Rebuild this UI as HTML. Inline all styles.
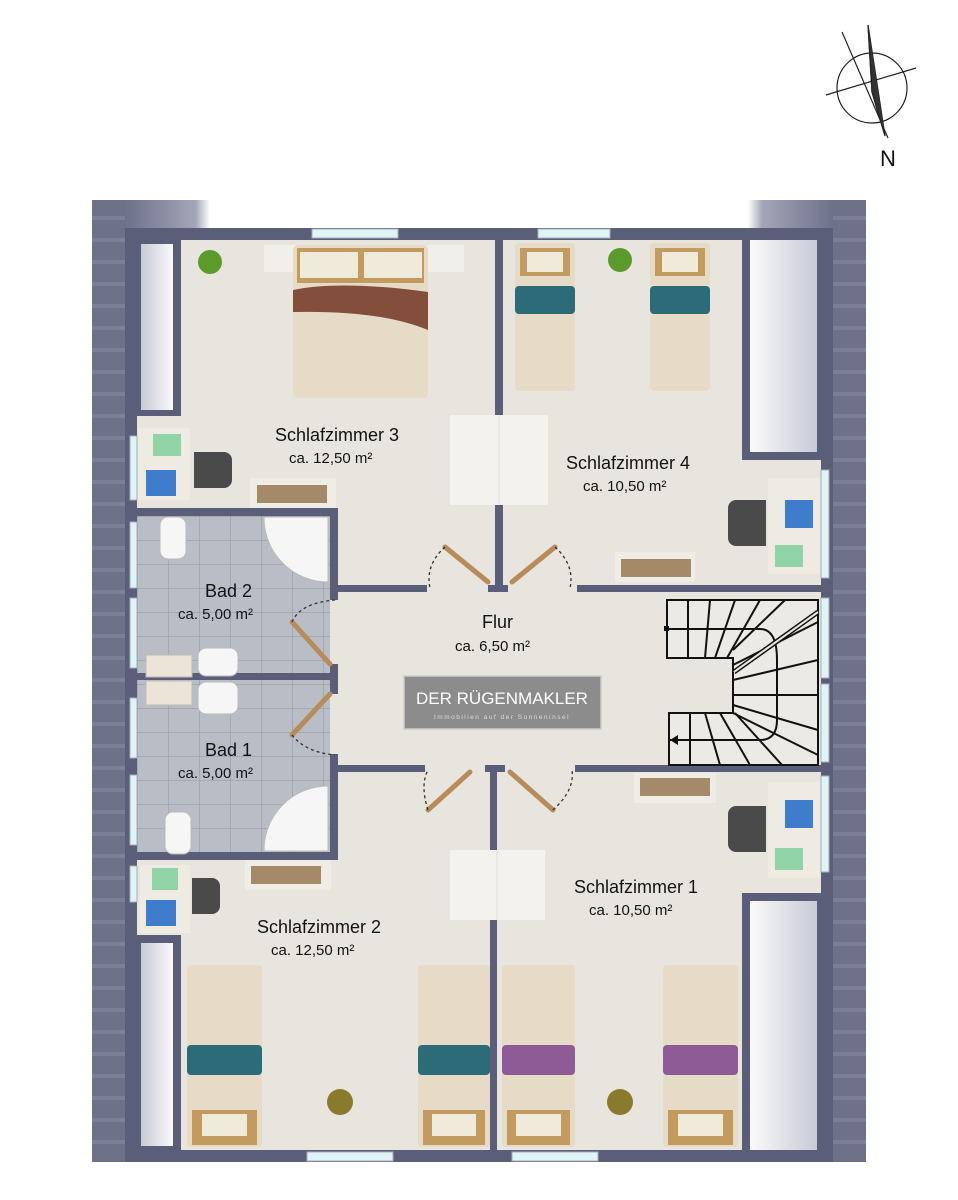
<!DOCTYPE html>
<html><head><meta charset="utf-8"><style>
html,body{margin:0;padding:0;background:#fff;}
svg{display:block;}
text{font-family:"Liberation Sans",sans-serif;fill:#111;}
</style></head><body>
<svg width="958" height="1200" viewBox="0 0 958 1200" xmlns="http://www.w3.org/2000/svg">
<defs>
<linearGradient id="roofT" x1="0" y1="0" x2="1" y2="0">
<stop offset="0" stop-color="#6d7189"/><stop offset="0.1" stop-color="#a4a6b8"/><stop offset="0.12" stop-color="#fff"/><stop offset="0.88" stop-color="#fff"/><stop offset="0.9" stop-color="#a4a6b8"/><stop offset="1" stop-color="#6d7189"/>
</linearGradient>
<linearGradient id="knee" x1="0" y1="0" x2="1" y2="0">
<stop offset="0" stop-color="#c8cad6"/><stop offset="1" stop-color="#fafafa"/>
</linearGradient>
<linearGradient id="kneeR" x1="1" y1="0" x2="0" y2="0">
<stop offset="0" stop-color="#c8cad6"/><stop offset="1" stop-color="#fafafa"/>
</linearGradient>
<pattern id="tiles" width="31" height="24" patternUnits="userSpaceOnUse" x="137" y="516">
<rect width="31" height="24" fill="#b9bec6"/><path d="M0 0H31M0 0V24" stroke="#8f949e" stroke-width="1"/>
</pattern>
<pattern id="stripes" width="10" height="22" patternUnits="userSpaceOnUse">
<rect width="10" height="22" fill="#6e7289"/><rect y="18" width="10" height="4" fill="#7c8097"/>
</pattern>
</defs>

<!-- compass -->
<g stroke="#222" fill="none" stroke-width="1.2">
<circle cx="872" cy="88" r="35"/>
<line x1="826" y1="95" x2="916" y2="68"/>
<line x1="842" y1="32" x2="888" y2="138"/>
<path d="M868 25 L878 90 L885 136 L872 92 Z" fill="#fff"/>
<path d="M868 25 L872 92 L885 136" fill="#333"/>
</g>
<text x="880" y="166" font-size="22">N</text>

<!-- roof -->
<rect x="92" y="200" width="774" height="962" fill="url(#stripes)"/>
<rect x="125" y="200" width="708" height="28" fill="url(#roofT)"/>
<!-- floor -->
<rect x="125" y="228" width="708" height="934" fill="#5a5e78"/>
<rect x="137" y="240" width="684" height="910" fill="#e8e5de"/>

<!-- knee walls -->
<rect x="137" y="240" width="44" height="176" fill="#5a5e78"/>
<rect x="141" y="244" width="32" height="166" fill="url(#knee)"/>
<rect x="742" y="240" width="79" height="220" fill="#5a5e78"/>
<rect x="750" y="240" width="67" height="212" fill="url(#kneeR)"/>
<rect x="137" y="935" width="44" height="215" fill="#5a5e78"/>
<rect x="141" y="943" width="32" height="203" fill="url(#knee)"/>
<rect x="742" y="893" width="79" height="257" fill="#5a5e78"/>
<rect x="750" y="901" width="67" height="249" fill="url(#kneeR)"/>

<!-- windows -->
<g fill="#dff4f6" stroke="#aab" stroke-width="1">
<rect x="312" y="229" width="86" height="9"/>
<rect x="538" y="229" width="72" height="9"/>
<rect x="307" y="1152" width="86" height="9"/>
<rect x="512" y="1152" width="86" height="9"/>
<rect x="130" y="436" width="7" height="64"/>
<rect x="130" y="522" width="7" height="66"/>
<rect x="130" y="598" width="7" height="70"/>
<rect x="130" y="698" width="7" height="60"/>
<rect x="130" y="775" width="7" height="70"/>
<rect x="130" y="866" width="7" height="36"/>
<rect x="821" y="470" width="8" height="108"/>
<rect x="821" y="598" width="8" height="80"/>
<rect x="821" y="684" width="8" height="78"/>
<rect x="821" y="776" width="8" height="96"/>
</g>

<!-- baths -->
<rect x="137" y="516" width="193" height="336" fill="url(#tiles)"/>
<g fill="#5a5e78">
<rect x="125" y="508" width="213" height="8"/>
<rect x="125" y="852" width="213" height="8"/>
<rect x="137" y="673" width="201" height="7"/>
<rect x="330" y="508" width="8" height="92"/>
<rect x="330" y="664" width="8" height="30"/>
<rect x="330" y="754" width="8" height="106"/>
<rect x="330" y="585" width="97" height="7"/>
<rect x="488" y="585" width="20" height="7"/>
<rect x="577" y="585" width="252" height="7"/>
<rect x="330" y="765" width="95" height="7"/>
<rect x="485" y="765" width="20" height="7"/>
<rect x="575" y="765" width="254" height="7"/>
<rect x="495" y="240" width="8" height="350"/>
<rect x="490" y="768" width="7" height="382"/>
<rect x="125" y="415" width="12" height="20"/>
<rect x="125" y="920" width="12" height="20"/>
</g>

<!-- bath fixtures -->
<g fill="#f6f6f6" stroke="#bbb">
<rect x="160" y="517" width="26" height="42" rx="8"/>
<rect x="165" y="812" width="26" height="42" rx="8"/>
<path d="M264 517 H328 V582 A64 64 0 0 1 264 517Z"/>
<path d="M264 851 H328 V786 A64 64 0 0 0 264 851Z"/>
<rect x="198" y="648" width="40" height="28" rx="8"/>
<rect x="198" y="682" width="40" height="32" rx="8"/>
<rect x="146" y="655" width="46" height="22" fill="#ece4d6"/>
<rect x="146" y="681" width="46" height="24" fill="#ece4d6"/>
</g>

<!-- beds -->
<g>
<rect x="264" y="245" width="200" height="27" fill="#f1efe9"/>
<rect x="293" y="245" width="135" height="153" rx="5" fill="#e6dbc6"/>
<rect x="297" y="248" width="127" height="35" fill="#c39b5f"/>
<path d="M293 290 Q340 280 428 292 V330 Q380 310 293 312Z" fill="#834e3b"/>
<rect x="300" y="252" width="58" height="26" fill="#f0eadb"/><rect x="364" y="252" width="58" height="26" fill="#f0eadb"/>
<rect x="450" y="415" width="98" height="90" fill="#f4f2ee"/>
<line x1="499" y1="415" x2="499" y2="505" stroke="#ddd"/>
<rect x="515" y="243" width="60" height="148" rx="4" fill="#e6dbc6"/>
<rect x="515" y="286" width="60" height="28" rx="4" fill="#2c6b78"/>
<rect x="520" y="248" width="50" height="28" fill="#c39b5f"/>
<rect x="527" y="252" width="36" height="20" fill="#f0eadb"/>
<rect x="650" y="243" width="60" height="148" rx="4" fill="#e6dbc6"/>
<rect x="650" y="286" width="60" height="28" rx="4" fill="#2c6b78"/>
<rect x="655" y="248" width="50" height="28" fill="#c39b5f"/>
<rect x="662" y="252" width="36" height="20" fill="#f0eadb"/>
<rect x="187" y="965" width="75" height="182" rx="4" fill="#e6dbc6"/>
<rect x="187" y="1045" width="75" height="30" rx="4" fill="#2c6b78"/>
<rect x="192" y="1110" width="65" height="35" fill="#c39b5f"/>
<rect x="202" y="1114" width="45" height="22" fill="#f0eadb"/>
<rect x="418" y="965" width="72" height="182" rx="4" fill="#e6dbc6"/>
<rect x="418" y="1045" width="72" height="30" rx="4" fill="#2c6b78"/>
<rect x="423" y="1110" width="62" height="35" fill="#c39b5f"/>
<rect x="432" y="1114" width="44" height="22" fill="#f0eadb"/>
<rect x="502" y="965" width="73" height="182" rx="4" fill="#e6dbc6"/>
<rect x="502" y="1045" width="73" height="30" rx="4" fill="#8e5b97"/>
<rect x="507" y="1110" width="63" height="35" fill="#c39b5f"/>
<rect x="516" y="1114" width="45" height="22" fill="#f0eadb"/>
<rect x="663" y="965" width="75" height="182" rx="4" fill="#e6dbc6"/>
<rect x="663" y="1045" width="75" height="30" rx="4" fill="#8e5b97"/>
<rect x="668" y="1110" width="65" height="35" fill="#c39b5f"/>
<rect x="678" y="1114" width="45" height="22" fill="#f0eadb"/>
<rect x="450" y="850" width="95" height="70" fill="#f4f2ee"/>
<line x1="497" y1="850" x2="497" y2="920" stroke="#ddd"/>
</g>

<!-- desks -->
<g>
<rect x="138" y="428" width="52" height="72" fill="#efebe2"/><rect x="153" y="434" width="28" height="22" fill="#8fd3a6"/><rect x="146" y="470" width="30" height="26" fill="#3f7ccc"/>
<path d="M194 452 h30 a8 8 0 0 1 8 8 v20 a8 8 0 0 1 -8 8 h-30z" fill="#4a4a4a"/>
<rect x="250" y="478" width="86" height="30" fill="#f0ede6"/>
<rect x="140" y="865" width="50" height="68" fill="#efebe2"/><rect x="152" y="868" width="26" height="22" fill="#8fd3a6"/><rect x="146" y="900" width="30" height="26" fill="#3f7ccc"/>
<path d="M192 878 h20 a8 8 0 0 1 8 8 v20 a8 8 0 0 1 -8 8 h-20z" fill="#4a4a4a"/>
<rect x="245" y="860" width="86" height="30" fill="#f0ede6"/>
<rect x="768" y="478" width="52" height="96" fill="#efebe2"/><rect x="775" y="545" width="28" height="22" fill="#8fd3a6"/><rect x="785" y="500" width="28" height="28" fill="#3f7ccc"/>
<path d="M766 500 h-30 a8 8 0 0 0 -8 8 v30 a8 8 0 0 0 8 8 h30z" fill="#4a4a4a"/>
<rect x="615" y="552" width="80" height="30" fill="#f0ede6"/>
<rect x="768" y="782" width="52" height="96" fill="#efebe2"/><rect x="775" y="848" width="28" height="22" fill="#8fd3a6"/><rect x="785" y="800" width="28" height="28" fill="#3f7ccc"/>
<path d="M766 806 h-30 a8 8 0 0 0 -8 8 v30 a8 8 0 0 0 8 8 h30z" fill="#4a4a4a"/>
<rect x="634" y="773" width="82" height="30" fill="#f0ede6"/>
</g>
<g fill="#a58a6a">
<rect x="257" y="485" width="70" height="18"/><rect x="251" y="866" width="70" height="18"/>
<rect x="621" y="559" width="70" height="18"/><rect x="640" y="778" width="70" height="18"/>
</g>
<!-- plants -->
<g fill="#5d9a2c">
<circle cx="210" cy="262" r="12"/><circle cx="620" cy="260" r="12"/>
<circle cx="340" cy="1102" r="13" fill="#8a7a2c"/><circle cx="620" cy="1102" r="13" fill="#8a7a2c"/>
</g>

<!-- doors -->
<g stroke="#b88b5a" stroke-width="5" stroke-linecap="round">
<line x1="445" y1="547" x2="488" y2="582"/>
<line x1="555" y1="547" x2="512" y2="582"/>
<line x1="292" y1="622" x2="330" y2="664"/>
<line x1="292" y1="735" x2="330" y2="694"/>
<line x1="428" y1="810" x2="470" y2="772"/>
<line x1="553" y1="810" x2="510" y2="772"/>
</g>
<g stroke="#333" stroke-width="1.3" stroke-dasharray="3,3" fill="none">
<path d="M445 547 Q425 565 430 588"/><path d="M555 547 Q575 565 570 588"/>
<path d="M292 622 Q300 603 335 600"/><path d="M292 735 Q305 752 335 755"/>
<path d="M428 810 Q420 785 428 770"/><path d="M553 810 Q575 790 572 770"/>
</g>

<!-- stairs -->
<g stroke="#111" stroke-width="2" fill="none">
<path d="M667 600 H818 V765 H669 V713 H733 V658 H667 Z" fill="#eceae4"/>
<path d="M667 629 H760 Q777 629 777 660 V720 Q777 740 760 740 H669"/>
<path d="M688 600V658 M710 600L705 658 M735 600L715 658 M760 600L727 658 M785 600L733 650"/>
<path d="M733 665L818 622 M733 680L818 660 M733 695L818 695 M733 705L818 730 M733 713L818 755"/>
<path d="M690 713V765 M705 713L720 765 M720 713L750 765 M735 713L782 765"/>
<line x1="734" y1="672" x2="818" y2="612" stroke-width="5"/><line x1="734" y1="672" x2="818" y2="612" stroke="#eceae4" stroke-width="2"/>
</g>
<rect x="664" y="626" width="5" height="5" fill="#111"/>
<path d="M670 740 l8 -5 v10z" fill="#111"/>

<!-- logo -->
<rect x="404" y="676" width="197" height="53" fill="#8c8c8c" stroke="#ccc" stroke-width="1.5"/>
<text x="502" y="704" font-size="17" text-anchor="middle" style="fill:#fff">DER RÜGENMAKLER</text>
<text x="502" y="719" font-size="6.5" text-anchor="middle" letter-spacing="1.5" style="fill:#ddd">Immobilien auf der Sonneninsel</text>

<!-- labels -->
<g font-size="18">
<text x="275" y="441">Schlafzimmer 3</text>
<text x="566" y="469">Schlafzimmer 4</text>
<text x="205" y="597">Bad 2</text>
<text x="205" y="756">Bad 1</text>
<text x="482" y="628">Flur</text>
<text x="574" y="893">Schlafzimmer 1</text>
<text x="257" y="933">Schlafzimmer 2</text>
</g>
<g font-size="15">
<text x="289" y="463">ca. 12,50 m²</text>
<text x="583" y="491">ca. 10,50 m²</text>
<text x="178" y="619">ca. 5,00 m²</text>
<text x="178" y="778">ca. 5,00 m²</text>
<text x="455" y="651">ca. 6,50 m²</text>
<text x="589" y="915">ca. 10,50 m²</text>
<text x="271" y="955">ca. 12,50 m²</text>
</g>
</svg>
</body></html>
